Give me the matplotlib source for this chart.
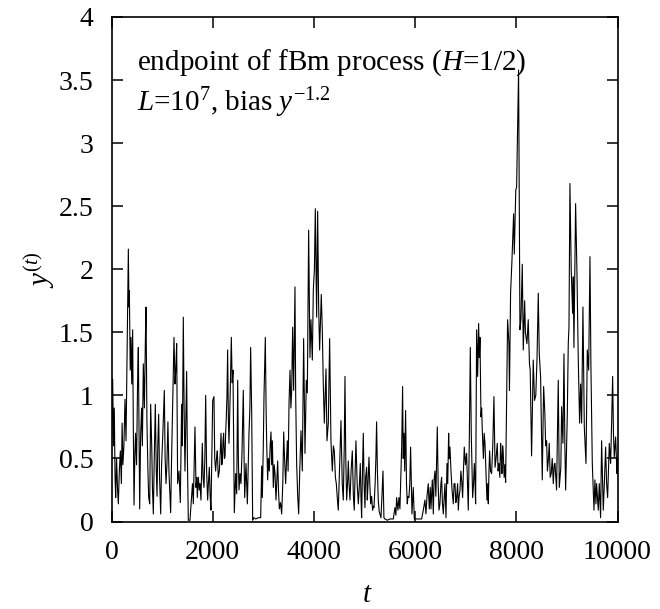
import matplotlib
matplotlib.use('Agg')
import matplotlib.pyplot as plt

t = [0, 23, 40, 55, 70, 83, 100, 120, 135, 155, 175, 195, 210, 225, 245, 267, 287, 310, 333, 345, 353, 370, 385, 400, 418, 430, 445, 460, 475, 495, 515, 530, 545, 557, 575, 595, 610, 629, 650, 670, 682, 700, 720, 735, 755, 774, 795, 810, 827, 845, 866, 885, 900, 915, 932, 950, 972, 990, 1015, 1044, 1060, 1077, 1095, 1115, 1135,
     1150, 1169, 1185, 1202, 1220, 1235, 1255, 1270, 1288, 1307, 1334, 1360, 1386, 1400, 1419, 1435, 1452, 1485, 1500, 1518, 1551, 1570, 1584, 1600, 1617, 1650, 1670, 1685, 1696, 1716, 1735, 1749, 1768, 1795, 1810, 1828, 1845, 1861, 1880, 1900, 1915, 1933, 1950, 1966, 1985, 2000, 2025, 2040, 2058, 2075, 2091, 2110, 2131, 2150, 2164, 2180, 2190, 2205, 2216, 2230, 2243, 2256, 2269, 2282, 2295, 2310, 2322, 2345, 2368, 2385, 2401, 2427,
     2454, 2474, 2494, 2507, 2520, 2540, 2559, 2579, 2605, 2620, 2632, 2658, 2685, 2717, 2735, 2750, 2770, 2790, 2810, 2850, 2900, 2948, 2968, 2981, 3000, 3014, 3040, 3055, 3067, 3086, 3100, 3119, 3135, 3152, 3165, 3179, 3198, 3215, 3231, 3251, 3270, 3284, 3300, 3317, 3340, 3363, 3385, 3403, 3420, 3442, 3460, 3475, 3490, 3508, 3528, 3545, 3561, 3580, 3600, 3626, 3640, 3659, 3680, 3699,
     3720, 3745, 3771, 3797, 3824, 3850, 3870, 3896, 3922, 3942, 3969, 3988, 4010, 4028, 4054, 4074, 4094, 4113, 4130, 4146, 4166, 4185, 4206, 4222, 4239, 4258, 4285, 4311, 4337, 4364, 4385, 4403, 4425, 4443, 4460, 4482, 4505, 4535, 4560, 4581, 4600, 4614, 4630, 4647, 4665, 4680, 4695, 4713, 4735, 4759, 4780, 4798, 4815, 4831, 4855, 4878, 4900, 4917, 4930, 4943, 4960, 4976, 4992, 5009,
     5022, 5042, 5055, 5070, 5088, 5105, 5121, 5140, 5160, 5175, 5187, 5210, 5225, 5239, 5255, 5272, 5290, 5305, 5325, 5345, 5365, 5384, 5404, 5450, 5500, 5569, 5602, 5620, 5635, 5661, 5681, 5700, 5720, 5735, 5753, 5765, 5780, 5795, 5812, 5830, 5845, 5860, 5878, 5895, 5911, 5925, 5938, 5964, 5984, 6050, 6129, 6162, 6194, 6214, 6235, 6260, 6280,
     6300, 6314, 6340, 6360, 6375, 6393, 6410, 6439, 6455, 6472, 6491, 6510, 6524, 6540, 6557, 6575, 6590, 6610, 6630, 6645, 6663, 6675, 6689, 6709, 6730, 6755, 6770, 6788, 6805, 6821, 6840, 6854, 6870, 6887, 6905, 6920, 6939, 6955, 6972, 6995, 7018, 7035, 7051, 7070, 7091, 7110, 7137, 7155, 7170, 7185, 7196, 7216, 7236, 7255, 7270, 7282, 7302, 7315, 7328, 7350, 7365, 7381, 7400, 7420, 7435, 7447, 7460, 7473, 7490, 7512, 7535, 7558,
     7580, 7600, 7624, 7640, 7657, 7675, 7690, 7705, 7716, 7730, 7742, 7760, 7775, 7789, 7810, 7828, 7854, 7865, 7887, 7914, 7947, 7960, 7990, 8006, 8045, 8072, 8092, 8118, 8138, 8165, 8180, 8210, 8236, 8260, 8275, 8302, 8335, 8360, 8385, 8410, 8434, 8454, 8480, 8513, 8540, 8565, 8580, 8599, 8615, 8632, 8651, 8670, 8690, 8710, 8731, 8750, 8764, 8796, 8829, 8850,
     8880, 8896, 8922, 8942, 8960, 8975, 9008, 9027, 9041, 9060, 9085, 9113, 9126, 9139, 9172, 9199, 9225, 9251, 9271, 9291, 9317, 9344, 9377, 9403, 9430, 9456, 9475, 9502, 9535, 9554, 9574, 9587, 9620, 9640, 9666, 9686, 9719, 9740, 9765, 9785, 9805, 9838, 9864, 9885, 9904, 9920, 9936, 9963, 9989, 10000]

y = [0.55, 1.13, 0.6, 0.9, 0.35, 0.19, 0.5, 0.25, 0.14, 0.4, 0.56, 0.3, 0.78, 0.45, 0.6, 0.97, 0.64, 1.4, 2.16, 1.7, 1.83, 1.2, 1.46, 1.09, 1.52, 0.8, 0.13, 0.5, 0.7, 0.45, 1.1, 1.38, 0.7, 0.10, 0.67, 0.9, 0.6, 1.25, 0.9, 1.45, 1.70, 0.8, 0.4, 0.19, 0.14, 0.93, 0.6, 0.25, 0.06, 0.5, 0.93, 0.4, 0.2, 0.6, 0.85, 0.35, 0.06, 0.45, 0.7, 1.04, 0.5, 0.30, 0.45, 0.79, 0.4,
     0.25, 0.07, 0.45, 0.78, 1.1, 1.46, 1.09, 1.2, 1.41, 0.30, 0.40, 0.15, 0.93, 0.6, 1.62, 0.9, 0.40, 1.19, 0.5, 0.01, 0.01, 0.12, 0.19, 0.3, 0.14, 0.75, 0.27, 0.35, 0.19, 0.35, 0.25, 0.30, 0.17, 0.62, 0.35, 0.27, 0.5, 1.0, 0.4, 0.17, 0.3, 0.43, 0.2, 0.09, 0.6, 0.96, 0.99, 0.5, 0.40, 0.5, 0.56, 0.35, 0.40, 0.55, 0.70, 0.45, 0.48, 0.65, 0.70, 0.5, 0.51, 0.7, 0.83, 1.0, 1.36, 0.8, 0.62, 1.0, 1.46, 1.1, 1.20, 0.07,
     0.38, 0.22, 1.12, 0.5, 0.25, 0.38, 0.3, 0.55, 1.04, 0.5, 0.19, 0.46, 0.14, 0.70, 0.9, 1.38, 0.88, 0.01, 0.03, 0.02, 0.03, 0.03, 0.44, 0.19, 0.6, 1.0, 1.46, 0.9, 0.62, 0.33, 0.5, 0.4, 0.6, 0.71, 0.45, 0.64, 0.27, 0.45, 0.38, 0.17, 0.35, 0.48, 0.25, 0.10, 0.15, 0.06, 0.3, 0.71, 0.5, 0.30, 0.5, 0.64, 0.4, 0.93, 1.20, 0.9, 1.04, 1.54, 1.04, 1.86, 1.0, 0.46, 0.2, 0.06,
     0.4, 0.72, 0.40, 1.45, 0.54, 1.12, 1.02, 2.31, 1.30, 1.6, 1.28, 1.83, 2.0, 2.48, 1.62, 2.46, 1.70, 1.36, 1.6, 1.80, 1.52, 1.1, 0.78, 1.0, 1.21, 0.64, 0.78, 1.45, 0.64, 0.40, 0.6, 0.56, 0.35, 0.30, 0.2, 0.09, 0.4, 0.80, 0.3, 0.17, 0.6, 1.15, 0.5, 0.17, 0.3, 0.48, 0.3, 0.17, 0.4, 0.56, 0.2, 0.09, 0.4, 0.64, 0.3, 0.14, 0.3, 0.46, 0.2, 0.03, 0.4, 0.70, 0.3, 0.11,
     0.35, 0.43, 0.17, 0.3, 0.51, 0.3, 0.14, 0.2, 0.09, 0.12, 0.11, 0.3, 0.5, 0.79, 0.4, 0.17, 0.08, 0.06, 0.03, 0.2, 0.40, 0.03, 0.02, 0.01, 0.02, 0.02, 0.11, 0.05, 0.19, 0.09, 0.19, 0.1, 0.4, 0.6, 1.07, 0.5, 0.70, 0.4, 0.88, 0.3, 0.14, 0.2, 0.19, 0.3, 0.59, 0.3, 0.06, 0.27, 0.02, 0.02, 0.02, 0.09, 0.17, 0.06, 0.2, 0.30, 0.1,
     0.27, 0.1, 0.33, 0.06, 0.33, 0.40, 0.2, 0.75, 0.3, 0.09, 0.14, 0.3, 0.35, 0.15, 0.06, 0.2, 0.30, 0.03, 0.46, 0.3, 0.70, 0.5, 0.59, 0.40, 0.25, 0.14, 0.3, 0.30, 0.15, 0.19, 0.3, 0.09, 0.2, 0.25, 0.4, 0.33, 0.19, 0.4, 0.59, 0.45, 0.54, 0.3, 0.09, 0.6, 1.38, 0.7, 0.19, 0.3, 0.46, 0.3, 0.14, 1.52, 1.15, 1.57, 1.3, 1.46, 0.83, 0.9, 0.72, 0.5, 0.7, 0.62, 0.4, 0.17, 0.3, 0.14, 0.4, 0.56, 0.4, 0.38, 0.6, 0.99,
     0.43, 0.5, 0.62, 0.4, 0.46, 0.35, 0.62, 0.5, 0.38, 0.6, 0.54, 0.35, 0.45, 0.31, 1.0, 1.60, 1.41, 1.04, 1.81, 2.07, 2.44, 2.12, 2.63, 2.65, 3.58, 1.52, 1.6, 2.04, 1.36, 1.75, 1.5, 1.41, 1.6, 1.25, 1.2, 0.52, 1.28, 0.96, 1.0, 1.3, 1.81, 1.33, 1.15, 0.33, 1.07, 0.85, 0.6, 0.64, 0.4, 0.48, 0.62, 0.35, 0.38, 0.5, 0.30, 0.45, 0.46, 0.25, 1.12, 0.27,
     0.43, 0.91, 0.62, 1.33, 0.6, 0.25, 0.85, 1.41, 1.54, 2.68, 2.0, 1.65, 1.94, 1.38, 2.52, 1.97, 1.28, 0.78, 1.09, 0.78, 1.70, 0.75, 0.46, 1.36, 1.2, 2.10, 1.22, 0.46, 0.09, 0.33, 0.14, 0.30, 0.09, 0.3, 0.03, 0.64, 0.09, 0.3, 0.59, 0.3, 0.19, 0.62, 0.46, 0.8, 1.15, 0.7, 0.51, 0.67, 0.38, 0.5]

xticks = [0, 2000, 4000, 6000, 8000, 10000]
yticks = [0, 0.5, 1, 1.5, 2, 2.5, 3, 3.5, 4]
ytick_labels = ['0', '0.5', '1', '1.5', '2', '2.5', '3', '3.5', '4']

plt.rcParams['font.family'] = ['Liberation Serif', 'DejaVu Serif']
plt.rcParams['mathtext.fontset'] = 'custom'
plt.rcParams['mathtext.rm'] = 'Liberation Serif'
plt.rcParams['mathtext.it'] = 'Liberation Serif:italic'

fig = plt.figure(figsize=(6.6, 6.09), dpi=100)
ax = fig.add_axes([111.5/660, 1-521.5/609, 506/660, 504.5/609])
ax.plot(t, y, color='black', lw=0.8)
ax.set_xlim(0, 10000)
ax.set_ylim(0, 4)
ax.set_xticks(xticks)
ax.set_yticks(yticks)
ax.set_yticklabels(ytick_labels)
ax.tick_params(direction='in', top=True, right=True, length=8, width=1.1, labelsize=20)
ax.tick_params(axis='x', pad=13)
ax.tick_params(axis='y', pad=13)
for s in ax.spines.values():
    s.set_linewidth(1.2)

ax.text(0.05, 0.895, r'endpoint of fBm process ($H$=1/2)', transform=ax.transAxes,
        fontsize=21, ha='left', va='baseline')
ax.text(0.05, 0.813, r'$L$=10$^7$, bias $y^{-1.2}$', transform=ax.transAxes,
        fontsize=21, ha='left', va='baseline')

fig.text(40/660, 1-270/609, r'$y^{(t)}$', rotation=90, ha='center', va='center', fontsize=21)
fig.text(367/660, 1-595/609, r'$t$', ha='center', va='center', fontsize=21)

fig.savefig('out.png', dpi=100)
